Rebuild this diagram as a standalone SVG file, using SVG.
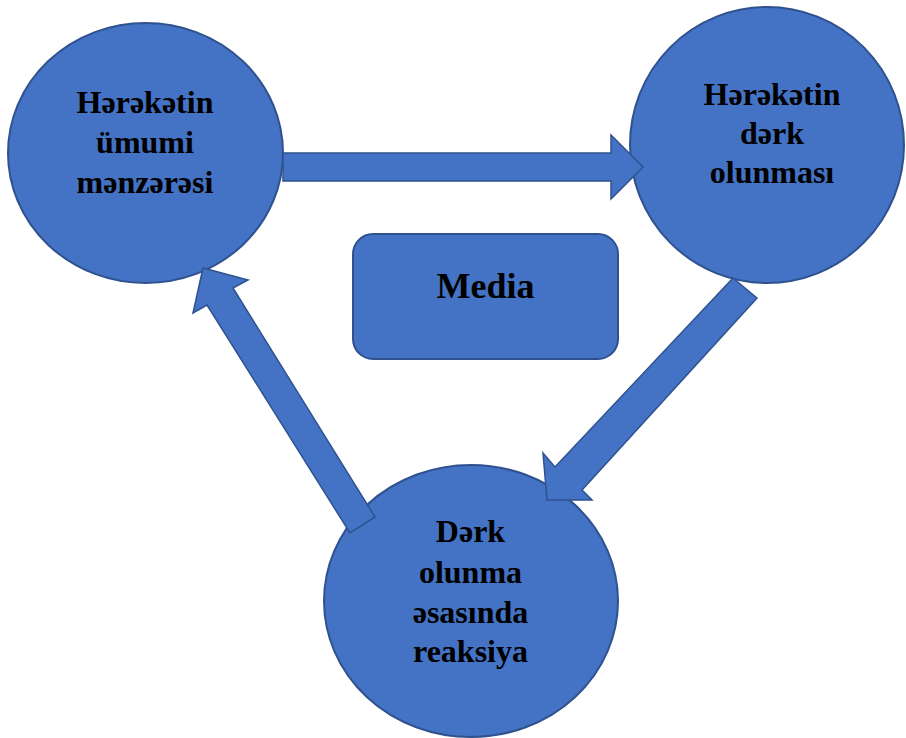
<svg xmlns="http://www.w3.org/2000/svg" width="906" height="738" viewBox="0 0 906 738">
<style>
.shape{fill:#4472C4;stroke:#2F528F;stroke-width:2}
.arrow{fill:#4472C4;stroke:#2F528F;stroke-width:1.5;stroke-linejoin:miter}
.lbl{font-family:"Liberation Serif","Times New Roman","DejaVu Serif",serif;font-weight:bold;font-size:32px;fill:#000;text-anchor:middle}
</style>
<rect width="906" height="738" fill="#fff"/>
<g id="node-umumi">
<ellipse class="shape" cx="145.5" cy="153" rx="137.5" ry="130"/>
<text class="lbl" x="145" y="113">Hərəkətin</text>
<text class="lbl" x="145" y="153">ümumi</text>
<text class="lbl" x="145" y="193">mənzərəsi</text>
</g>
<g id="node-derk">
<ellipse class="shape" cx="767" cy="145" rx="137" ry="138"/>
<text class="lbl" x="772" y="105">Hərəkətin</text>
<text class="lbl" x="772" y="144">dərk</text>
<text class="lbl" x="772" y="183">olunması</text>
</g>
<g id="node-reaksiya">
<ellipse class="shape" cx="471" cy="601" rx="147" ry="136"/>
<text class="lbl" x="470.5" y="542">Dərk</text>
<text class="lbl" x="470.5" y="583">olunma</text>
<text class="lbl" x="470.5" y="623">əsasında</text>
<text class="lbl" x="470.5" y="662">reaksiya</text>
</g>
<g id="node-media">
<rect class="shape" x="353" y="234" width="265" height="125" rx="20" ry="20"/>
<text class="lbl" x="485.5" y="298" style="font-size:36px">Media</text>
</g>
<g id="connectors">
<polygon class="arrow" points="283,153 611,153 611,135 643,167 611,199 611,181 283,181"/>
<polygon class="arrow" points="733,278 757,298 582,490 592,500 547,500 543,453 555,467"/>
<polygon class="arrow" points="375,517 233,288 248,280 203,268 193,313 207,305 350,533"/>
</g>
</svg>
